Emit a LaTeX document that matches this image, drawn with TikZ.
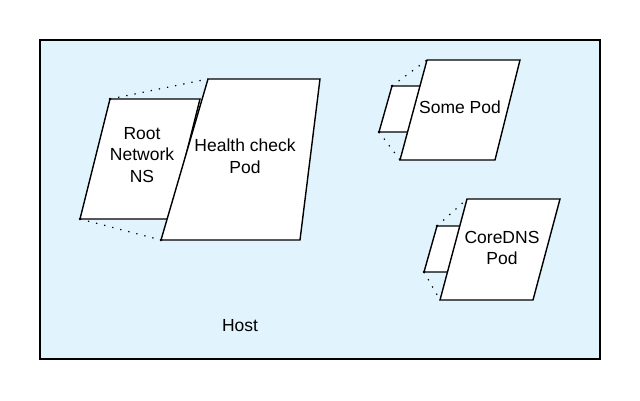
\documentclass[tikz,border=0pt]{standalone}
\usepackage{fontspec}
\setmainfont{Liberation Sans}
\tikzset{
  hostbox/.style={draw, line width=1.4pt, fill=hostblue},
  podbox/.style={draw, line width=1.4pt, fill=white, line join=miter},
  link/.style={line width=1.2pt, dash pattern=on 1.3pt off 7pt},
  lbl/.style={align=center, font=\fontsize{17.5}{21.5}\selectfont}
}
\definecolor{hostblue}{HTML}{E1F3FD}
\begin{document}
\begin{tikzpicture}[x=1pt, y=-1pt]
\useasboundingbox (0,0) rectangle (640,400);
% \draw[help lines, gray] (0,0) grid[step=20] (640,400);
\draw [hostbox] (40,40) rectangle (600,359);
\node (host) [lbl] at (240,326) {Host};
% root netns + health check pod
\coordinate (ra) at (110,99);  \coordinate (rb) at (80,219);
\coordinate (ha) at (208,79);  \coordinate (hb) at (161,240);
\draw [podbox] (ra) -- (200,99) -- (170,219) -- (rb) -- cycle;
\draw [link] (ra) -- (ha);  \draw [link] (rb) -- (hb);
\draw [podbox] (ha) -- (320,79) -- (300,240) -- (hb) -- cycle;
\fill (ra) circle (1.3pt) (rb) circle (1.3pt) (hb) circle (1.3pt);
\node (root) [lbl] at (142,155) {Root\\Network\\NS};
\node (health) [lbl] at (245,156) {Health check\\Pod};
% some pod
\coordinate (sa) at (392,86);  \coordinate (sb) at (379,132);
\coordinate (pa) at (427,60);  \coordinate (pb) at (400,160);
\draw [podbox] (sa) -- (425,86) -- (412,132) -- (sb) -- cycle;
\draw [link] (sa) -- (pa);  \draw [link] (sb) -- (pb);
\draw [podbox] (pa) -- (520,60) -- (495,160) -- (pb) -- cycle;
\fill (sa) circle (1.3pt) (sb) circle (1.3pt);
\node (some) [lbl] at (460,107) {Some Pod};
% coredns pod
\coordinate (ca) at (437,226);  \coordinate (cb) at (424,272);
\coordinate (da) at (467,199);  \coordinate (db) at (440,300);
\draw [podbox] (ca) -- (462,226) -- (450,272) -- (cb) -- cycle;
\draw [link] (ca) -- (da);  \draw [link] (cb) -- (db);
\draw [podbox] (da) -- (560,199) -- (533,300) -- (db) -- cycle;
\fill (ca) circle (1.3pt) (cb) circle (1.3pt);
\node (coredns) [lbl] at (502,248) {CoreDNS\\Pod};
\end{tikzpicture}
\end{document}
